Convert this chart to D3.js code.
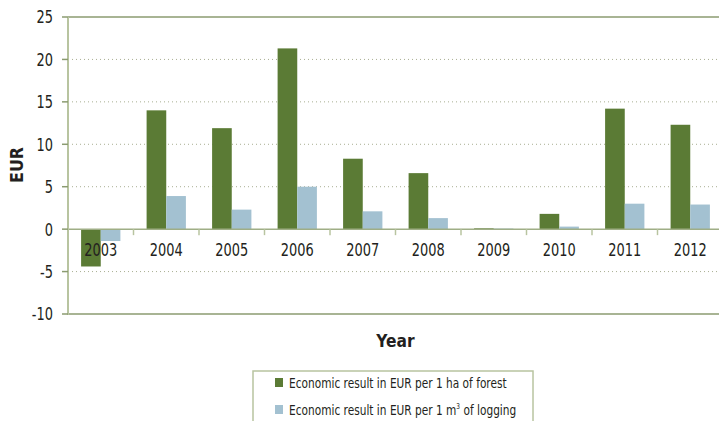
<!DOCTYPE html>
<html>
<head>
<meta charset="utf-8">
<script src="https://cdn.jsdelivr.net/npm/d3@7"></script>
<style>
  body { margin: 0; background: #fff; }
  svg { display: block; font-family: "DejaVu Sans", sans-serif; }
</style>
</head>
<body>
<div class="chart"></div>
<script>
// data
var years = ["2003", "2004", "2005", "2006", "2007", "2008", "2009", "2010", "2011", "2012"];
var perHa = [-4.4, 14.0, 11.9, 21.3, 8.3, 6.6, 0.1, 1.8, 14.2, 12.3];
var perM3 = [-1.4, 3.9, 2.3, 5.0, 2.1, 1.3, 0.07, 0.3, 3.0, 2.9];
var yTicks = [-10, -5, 0, 5, 10, 15, 20, 25];
var seriesNames = ["Economic result in EUR per 1 ha of forest", "Economic result in EUR per 1 m", "3", " of logging"];

var W = 719, H = 421;
var pLeft = 68, pRight = 723, pTop = 17, pBottom = 314;
var green = "#5b7b35", blue = "#a3c1d1";
var ink = "#231f20";
var narrow = 0.72; // fake a condensed face by squeezing glyphs

var svg = d3.select(".chart").append("svg")
    .attr("width", W)
    .attr("height", H);

var x = d3.scaleBand()
    .domain(years)
    .range([pLeft, pRight])
    .paddingInner(0.4)
    .paddingOuter(0.2);

var y = d3.scaleLinear()
    .domain([-10, 25])
    .range([pBottom, pTop]);

var step = x.step();
var half = x.bandwidth() / 2;

// dotted gridlines
svg.append("g").selectAll("line")
    .data(yTicks.filter(function(d) { return d != 0 && d != 25 && d != -10; }))
    .enter().append("line")
    .attr("x1", pLeft).attr("x2", W)
    .attr("y1", function(d) { return y(d); })
    .attr("y2", function(d) { return y(d); })
    .attr("stroke", "#a9ae92")
    .attr("stroke-width", 1)
    .attr("stroke-dasharray", "1,3");

// top & bottom frame lines
svg.append("line")
    .attr("x1", pLeft).attr("x2", W)
    .attr("y1", y(25)).attr("y2", y(25))
    .attr("stroke", "#8b9b70").attr("stroke-width", 1.5);
svg.append("line")
    .attr("x1", pLeft).attr("x2", W)
    .attr("y1", y(-10)).attr("y2", y(-10))
    .attr("stroke", "#8b9b70").attr("stroke-width", 1.5);

// bars
var bars = svg.append("g");
bars.selectAll(".ha")
    .data(years)
    .enter().append("rect")
    .attr("x", function(d) { return x(d); })
    .attr("width", half)
    .attr("y", function(d, i) { return y(Math.max(0, perHa[i])); })
    .attr("height", function(d, i) { return Math.abs(y(perHa[i]) - y(0)); })
    .attr("fill", green);
bars.selectAll(".m3")
    .data(years)
    .enter().append("rect")
    .attr("x", function(d) { return x(d) + half; })
    .attr("width", half)
    .attr("y", function(d, i) { return y(Math.max(0, perM3[i])); })
    .attr("height", function(d, i) { return Math.abs(y(perM3[i]) - y(0)); })
    .attr("fill", blue);

// zero line with category ticks
svg.append("line")
    .attr("x1", pLeft).attr("x2", W)
    .attr("y1", y(0)).attr("y2", y(0))
    .attr("stroke", "#9fae86").attr("stroke-width", 1.5);
svg.append("g").selectAll("line")
    .data(years.slice(1))
    .enter().append("line")
    .attr("x1", function(d) { return x(d) - step * 0.2; })
    .attr("x2", function(d) { return x(d) - step * 0.2; })
    .attr("y1", y(0)).attr("y2", y(0) + 6)
    .attr("stroke", "#b8c4a0").attr("stroke-width", 1.5);

// left axis line
svg.append("line")
    .attr("x1", pLeft).attr("x2", pLeft)
    .attr("y1", y(25)).attr("y2", y(-10) + 1)
    .attr("stroke", "#b8c4a0").attr("stroke-width", 2);

// y ticks + labels
var yt = svg.append("g").selectAll("g")
    .data(yTicks)
    .enter().append("g")
    .attr("transform", function(d) { return "translate(0," + y(d) + ")"; });
yt.append("line")
    .attr("x1", pLeft - 6).attr("x2", pLeft)
    .attr("stroke", "#8b9b70").attr("stroke-width", 1.5);
yt.append("text")
    .attr("transform", "translate(53,0) scale(" + narrow + ",1)")
    .attr("dy", "0.36em")
    .attr("text-anchor", "end")
    .attr("font-size", 18)
    .attr("fill", ink)
    .text(function(d) { return d; });

// year labels
svg.append("g").selectAll("text")
    .data(years)
    .enter().append("text")
    .attr("transform", function(d) {
        return "translate(" + (x(d) + half) + "," + (y(0) + 27) + ") scale(" + narrow + ",1)";
    })
    .attr("text-anchor", "middle")
    .attr("font-size", 18)
    .attr("fill", ink)
    .text(function(d) { return d; });

// axis titles
svg.append("text")
    .attr("transform", "translate(23,165) rotate(-90) scale(0.88,1)")
    .attr("text-anchor", "middle")
    .attr("font-size", 18)
    .attr("font-weight", "bold")
    .attr("fill", ink)
    .text("EUR");
svg.append("text")
    .attr("transform", "translate(" + ((pLeft + pRight) / 2) + ",347) scale(0.86,1)")
    .attr("text-anchor", "middle")
    .attr("font-size", 18)
    .attr("font-weight", "bold")
    .attr("fill", ink)
    .text("Year");

// legend
var lg = svg.append("g");
lg.append("rect")
    .attr("x", 253).attr("y", 371)
    .attr("width", 280).attr("height", 60)
    .attr("fill", "#fff")
    .attr("stroke", "#b8c4a0").attr("stroke-width", 1.5);
lg.append("rect").attr("x", 275).attr("y", 378).attr("width", 8).attr("height", 9).attr("fill", green);
lg.append("rect").attr("x", 275).attr("y", 405).attr("width", 8).attr("height", 9).attr("fill", blue);
lg.append("text")
    .attr("transform", "translate(289,388) scale(0.73,1)")
    .attr("font-size", 14.5)
    .attr("fill", ink)
    .text(seriesNames[0]);
var t2 = lg.append("text")
    .attr("transform", "translate(289,415) scale(0.73,1)")
    .attr("font-size", 14.5)
    .attr("fill", ink);
t2.append("tspan").text(seriesNames[1]);
t2.append("tspan").attr("font-size", 8).attr("dy", -6).text(seriesNames[2]);
t2.append("tspan").attr("dy", 6).text(seriesNames[3]);
</script>
</body>
</html>
